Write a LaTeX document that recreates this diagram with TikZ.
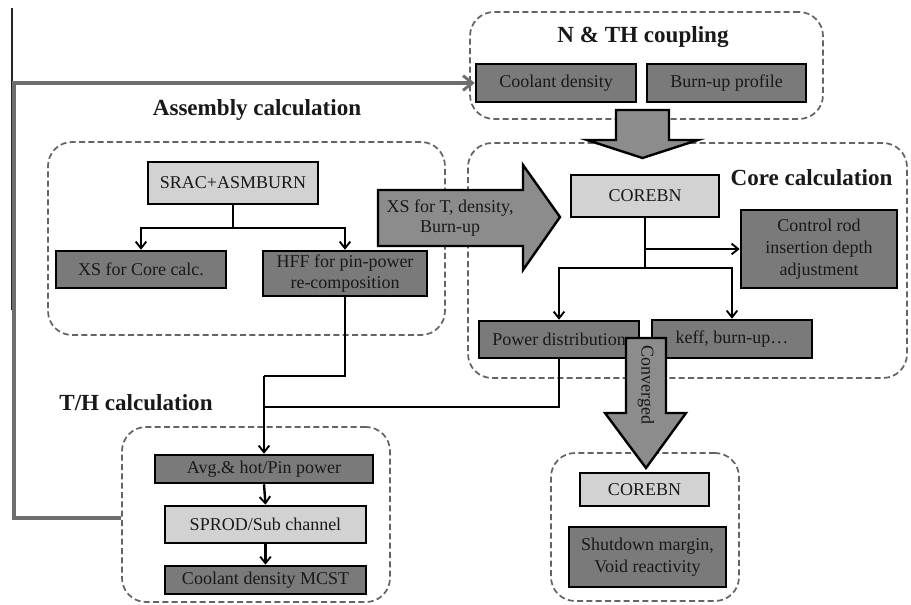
\documentclass[tikz,border=0pt]{standalone}
\usepackage{fontspec}
\setmainfont{Liberation Serif}
\newfontfamily\tnr{Liberation Serif}
\usetikzlibrary{arrows.meta}
\definecolor{darkbox}{RGB}{122,122,122}
\definecolor{lightbox}{RGB}{210,210,210}
\definecolor{bigarrow}{RGB}{140,140,140}
\definecolor{dashgrey}{RGB}{100,100,100}
\definecolor{fbgrey}{RGB}{110,110,110}
\newcommand\mybox[7]{%
  \pgfmathsetmacro\bw{(#4-#2)*0.75}%
  \pgfmathsetmacro\bh{(#5-#3)*0.75}%
  \node[#6, minimum width=\bw pt, minimum height=\bh pt] (#1) at ({(#2+#4)/2},{(#3+#5)/2}) {#7};}
\begin{document}
\begin{tikzpicture}[x=0.75pt,y=-0.75pt,
  dk/.style={draw=black, line width=1.9pt, fill=darkbox, inner sep=0pt, align=center,
    font=\tnr\fontsize{13.5}{15.5}\selectfont, text=black!90},
  lt/.style={dk, fill=lightbox},
  grp/.style={draw=dashgrey, dash pattern=on 4.5pt off 2.5pt, line width=1.3pt,
    rounded corners=18pt, inner sep=0pt},
  ttl/.style={font=\tnr\bfseries\fontsize{17.3}{19}\selectfont, text=black!90},
  con/.style={line width=1.8pt, -{Straight Barb[length=5pt,width=8pt,line width=1.4pt]}},
  pln/.style={line width=1.8pt},
  fb/.style={draw=fbgrey, line width=2.8pt},
  big/.style={draw=black, line width=1.8pt, fill=bigarrow, line join=miter},
  bigtxt/.style={align=center, font=\tnr\fontsize{13.5}{15.5}\selectfont, text=black!90}]
\useasboundingbox (0,0) rectangle (911,604);
\fill[white] (0,0) rectangle (911,604);

% containers
\mybox{gN}{470}{12}{823}{119}{grp}{}
\mybox{gA}{48}{142}{445}{335}{grp}{}
\mybox{gC}{468}{143}{907}{378}{grp}{}
\mybox{gT}{122}{427}{390}{602}{grp}{}
\mybox{gB}{551}{453}{739}{601}{grp}{}

% titles
\node[ttl] (tN) at (643,37) {N \& TH coupling};
\node[ttl] (tA) at (257,110) {Assembly calculation};
\node[ttl, anchor=west] (tC) at (726,178) {Core calculation};
\node[ttl] (tT) at (136,403) {T/H calculation};

% boxes
\mybox{cool}{476}{64}{636}{102}{dk}{Coolant density}
\mybox{burn}{647}{64}{806}{102}{dk}{Burn-up profile}
\mybox{srac}{148}{162}{318}{204}{lt}{SRAC+ASMBURN}
\mybox{xscore}{56}{251}{226}{288}{dk}{XS for Core calc.}
\mybox{hff}{263}{251}{427}{296}{dk}{HFF for pin-power\\re-composition}
\mybox{corebn}{571}{175}{719}{217}{lt}{COREBN}
\mybox{ctrl}{741}{210}{897}{288}{dk, font=\tnr\fontsize{13.5}{16.5}\selectfont}{Control rod\\insertion depth\\adjustment}
\mybox{power}{479}{321}{639}{358}{dk}{Power distribution}
\mybox{keff}{652}{320}{812}{358}{dk}{keff, burn-up…}
\mybox{corebnb}{580}{473}{709}{506}{lt}{COREBN}
\mybox{shut}{569}{527}{726}{587}{dk, font=\tnr\fontsize{13.5}{16.5}\selectfont}{Shutdown margin,\\Void reactivity}
\mybox{avg}{155}{455}{373}{483}{dk}{Avg.\& hot/Pin power}
\mybox{sprod}{165}{506}{366}{543}{lt}{SPROD/Sub channel}
\mybox{mcst}{165}{566}{366}{594}{dk}{Coolant density MCST}

% thin border line at left
\draw[line width=0.9pt, black!85] (12,8) -- (12,310);

% feedback line
\draw[fb, -{Straight Barb[length=7pt,width=11pt,line width=2.2pt]}] (gT.west |- 0,518) -| (14,83) -- (cool.west);

% assembly connectors
\coordinate (aj) at (srac.south |- 0,228);
\draw[pln] (srac.south) -- (aj);
\draw[con] (aj) -| (xscore.north);
\draw[con] (aj) -| (hff.north);

% core connectors
\coordinate (cj) at (corebn.south |- 0,268);
\coordinate (cr) at (corebn.south |- ctrl.west);
\draw[pln] (corebn.south) -- (cj);
\draw[con] (cr) -- (ctrl.west);
\draw[con] (cj) -| (power.north);
\draw[con] (cj) -| (keff.north);

% to T/H
\coordinate (tj) at (avg.north |- 0,376);
\draw[pln] (hff.south) |- (tj);
\draw[con] (tj) -- (avg.north);
\draw[pln] (power.south) |- (avg.north |- 0,407);
\draw[con] (avg.south) -- (sprod.north);
\draw[con] (sprod.south) -- (mcst.north);

% big arrows
\draw[big] (616,110) -- (669,110) -- (669,140) -- (698,140) -- (642.5,158) -- (587,140) -- (616,140) -- cycle;
\draw[big] (378,190) -- (523,190) -- (523,165) -- (560,217) -- (523,270) -- (523,246) -- (378,246) -- cycle;
\node[bigtxt] (xstxt) at (450,218) {XS for T, density,\\Burn-up};
\draw[big] (626,338) -- (666,338) -- (666,413) -- (686,413) -- (646,468) -- (605,413) -- (626,413) -- cycle;
\node[bigtxt, rotate=-90] (convtxt) at (646,385) {Converged};
\end{tikzpicture}
\end{document}
